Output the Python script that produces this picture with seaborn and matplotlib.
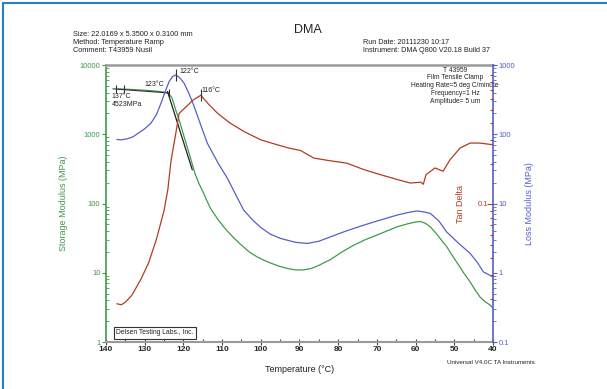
import matplotlib
matplotlib.use("Agg")
import matplotlib.pyplot as plt
import seaborn as sns
import numpy as np
from matplotlib.ticker import FixedLocator, FuncFormatter, NullFormatter, LogLocator, MultipleLocator
from matplotlib.patches import Rectangle

# ---------------- data ----------------
temp_storage = [137, 134, 131, 128, 125.5, 124, 123, 122.5, 122, 121, 120, 119, 118, 117, 116, 115, 114, 113,
                111, 109, 107, 105, 103, 101, 99, 97, 95, 93, 91, 89, 87, 85, 82, 79, 76, 73, 70, 67, 64.8,
                62, 60, 58.8, 57.5, 56.2, 54.5, 53, 52, 50, 48.5, 47.6, 46, 44.5, 43.4, 42, 41, 40]
storage_mod = [4523, 4450, 4350, 4250, 4100, 3950, 3400, 2800, 2250, 1550, 1000, 650, 420, 270, 195, 150, 112, 85,
               58, 42, 32, 25, 20, 17, 15, 13.5, 12.3, 11.5, 11.0, 11.0, 11.5, 12.8, 15.5, 20, 25, 30, 35, 41, 46,
               51, 54, 55, 52, 46, 36, 28, 24, 16, 12, 10, 7.5, 5.5, 4.5, 3.8, 3.5, 3.1]

temp_loss = [137.2, 136, 134.5, 133, 131.5, 130, 128.4, 127, 125.8, 124.8, 123.7, 122.8, 122, 121, 119.8, 118.5,
             117.2, 115.5, 113.8, 111, 108.6, 106.5, 104.4, 102, 100, 97.5, 94.9, 91, 88, 85, 82, 78, 73.4, 69,
             64.8, 62, 59.7, 58, 56.2, 54, 52, 49, 45.9, 44, 42.5, 41, 40]
loss_mod = [84, 83, 86, 92, 105, 120, 144, 190, 280, 400, 574, 680, 717, 660, 544, 380,
            250, 135, 74, 38, 23, 13.5, 8.0, 5.7, 4.5, 3.6, 3.13, 2.75, 2.65, 2.85, 3.3, 4.0, 4.87, 5.8,
            6.8, 7.4, 7.8, 7.6, 7.2, 5.6, 3.9, 2.7, 1.9, 1.4, 1.03, 0.93, 0.87]

temp_tan = [137.2, 136, 135, 133.3, 131, 129, 127, 125, 124, 123.2, 122, 121.1, 119.5, 117.5, 115.5, 113.5,
            111.2, 108, 104.4, 100, 95.8, 93, 89.7, 86.3, 82, 77.8, 73.4, 69.1, 64.8, 61.4, 58.6, 58, 57.3,
            55, 52.9, 51.1, 48.5, 45.9, 43.4, 40]
tan_delta = [0.0185, 0.0182, 0.019, 0.0214, 0.028, 0.037, 0.055, 0.09, 0.13, 0.21, 0.33, 0.47, 0.52, 0.59, 0.64, 0.55,
             0.472, 0.40, 0.346, 0.30, 0.276, 0.262, 0.25, 0.22, 0.21, 0.202, 0.181, 0.166, 0.153, 0.144, 0.146, 0.141,
             0.166, 0.186, 0.176, 0.214, 0.261, 0.284, 0.284, 0.276]

# analysis annotations
onset_line_T = [138.2, 123.8]
onset_line_E = [4523, 3950]
tangent_line_T = [124.1, 117.7]
tangent_line_E = [4140, 306]
onset_marks_T = [137.5, 135.3, 123.8]
onset_marks_E = [4523, 4523, 3950]
loss_peak = (122, 717)
tan_peak = (115.5, 0.644)

x_ticks = [140, 130, 120, 110, 100, 90, 80, 70, 60, 50, 40]
storage_ticks = [1, 10, 100, 1000, 10000]
loss_ticks = [0.1, 1, 10, 100, 1000]
tan_ticks = [0.1]

# ---------------- style ----------------
sns.set_style("white")
plt.rcParams['font.family'] = ['Liberation Sans', 'DejaVu Sans']

green = '#3f9a4c'
blue = '#5560c8'
red = '#b23c22'
spine_gray = '#9a9a9a'

fig = plt.figure(figsize=(6.07, 3.89), dpi=100)
fig.patch.set_facecolor('white')
ax = fig.add_axes([0.1746, 0.1208, 0.6376, 0.7121])
ax2 = ax.twinx()
ax3 = ax.twinx()

sns.lineplot(x=temp_storage, y=storage_mod, ax=ax, color=green, lw=0.9, sort=False, estimator=None)
sns.lineplot(x=temp_loss, y=loss_mod, ax=ax2, color=blue, lw=0.9, sort=False, estimator=None)
sns.lineplot(x=temp_tan, y=tan_delta, ax=ax3, color=red, lw=0.9, sort=False, estimator=None)

# analysis lines
ax.plot(onset_line_T, onset_line_E, color='#333333', lw=0.8)
ax.plot(tangent_line_T, tangent_line_E, color='#222222', lw=0.9)
ax.plot(onset_marks_T, onset_marks_E, ls='none', marker='|', ms=6, mew=0.8, color='#333333')
ax2.plot([loss_peak[0]], [loss_peak[1]], ls='none', marker='|', ms=8, mew=0.8, color='#333333')
ax3.plot([tan_peak[0]], [tan_peak[1]], ls='none', marker='|', ms=8, mew=0.8, color='#333333')

fmt = FuncFormatter(lambda v, p: f'{v:g}')

# storage axis
ax.set_xlim(140, 40)
ax.set_yscale('log')
ax.set_ylim(1, 10000)
ax.yaxis.set_major_locator(FixedLocator(storage_ticks))
ax.yaxis.set_major_formatter(fmt)
ax.yaxis.set_minor_locator(LogLocator(base=10, subs=np.arange(2, 10)))
ax.yaxis.set_minor_formatter(NullFormatter())
ax.tick_params(axis='y', which='major', direction='out', length=3, width=0.8, color=green,
               labelcolor=green, labelsize=5.5, pad=1, left=True)
ax.tick_params(axis='y', which='minor', direction='in', length=2, width=0.6, color=green, left=True)
ax.xaxis.set_major_locator(FixedLocator(x_ticks))
ax.xaxis.set_minor_locator(MultipleLocator(5))
ax.xaxis.set_major_formatter(fmt)
ax.tick_params(axis='x', which='major', direction='inout', length=4, width=0.8, color='#444444',
               labelsize=6, pad=1, bottom=True)
ax.tick_params(axis='x', which='minor', direction='in', length=2.5, width=0.8, color='#444444', bottom=True)
for lab in ax.get_xticklabels():
    lab.set_fontweight('bold')

ax.set_ylabel('Storage Modulus (MPa)', color=green, fontsize=6.5)
ax.yaxis.set_label_coords(-0.098, 0.5)
ax.set_xlabel('Temperature (°C)', fontsize=6.5, color='#222222')
ax.xaxis.set_label_coords(0.5, -0.083)

for s in ['top', 'bottom']:
    ax.spines[s].set_color(spine_gray)
ax.spines['top'].set_linewidth(1.8)
ax.spines['bottom'].set_linewidth(1.5)
ax.spines['left'].set_color(green)
ax.spines['left'].set_linewidth(1.2)
ax.spines['right'].set_visible(False)

# loss axis
ax2.set_yscale('log')
ax2.set_ylim(0.1, 1000)
ax2.yaxis.set_major_locator(FixedLocator(loss_ticks))
ax2.yaxis.set_major_formatter(fmt)
ax2.yaxis.set_minor_locator(LogLocator(base=10, subs=np.arange(2, 10)))
ax2.yaxis.set_minor_formatter(NullFormatter())
ax2.tick_params(axis='y', which='major', direction='out', length=3, width=0.8, color=blue,
                labelcolor=blue, labelsize=5.5, pad=1, right=True)
ax2.tick_params(axis='y', which='minor', direction='out', length=2, width=0.6, color=blue, right=True)
ax2.set_ylabel('Loss Modulus (MPa)', color=blue, fontsize=6.5)
ax2.yaxis.set_label_coords(1.083, 0.5)
for s in ['top', 'bottom', 'left']:
    ax2.spines[s].set_visible(False)
ax2.spines['right'].set_color(blue)
ax2.spines['right'].set_linewidth(1.2)

# tan delta axis
ax3.set_yscale('log')
ax3.set_ylim(0.00966, 1.07)
ax3.yaxis.set_major_locator(FixedLocator(tan_ticks))
ax3.yaxis.set_major_formatter(NullFormatter())
ax3.yaxis.set_minor_locator(LogLocator(base=10, subs=np.arange(2, 10)))
ax3.yaxis.set_minor_formatter(NullFormatter())
ax3.tick_params(axis='y', which='major', direction='in', length=4, width=0.8, color=red, right=True)
ax3.tick_params(axis='y', which='minor', direction='in', length=2, width=0.8, color=red, right=True)
for s in ax3.spines.values():
    s.set_visible(False)
for v in tan_ticks:
    ax3.text(0.988, v, f'{v:g}', transform=ax3.get_yaxis_transform(), ha='right', va='center',
             fontsize=5.5, color=red)
ax3.set_ylabel('')
ax3.text(0.917, 0.5, 'Tan Delta', transform=ax3.transAxes, rotation=90, ha='center', va='center',
         fontsize=6.5, color=red)

# annotations
ax2.text(121.0, 794, '122°C', fontsize=5, ha='left', va='center', color='#222222')
ax3.text(115.2, 0.69, '116°C', fontsize=5, ha='left', va='center', color='#222222')
ax.text(127.6, 5300, '123°C', fontsize=5, ha='center', va='center', color='#222222')
ax.text(138.6, 3900, '137°C\n4523MPa', fontsize=5, ha='left', va='top', color='#222222', linespacing=1.1)

ax.text(0.902, 0.994, 'T 43959\nFilm Tensile Clamp\nHeating Rate=5 deg C/minute\nFrequency=1 Hz\nAmplitude= 5 um',
        transform=ax.transAxes, ha='center', va='top', fontsize=4.8, linespacing=1.15, color='#222222')

ax.text(0.027, 0.033, 'Delsen Testing Labs., Inc.', transform=ax.transAxes, ha='left', va='center',
        fontsize=4.9, color='#222222',
        bbox=dict(boxstyle='square,pad=0.35', fc='white', ec='#333333', lw=0.8))

# header
H = 389.0
fig.text(308 / 607, 1 - 30 / H, 'DMA', ha='center', va='center', fontsize=9, color='#222222')
for i, line in enumerate(['Size: 22.0169 x 5.3500 x 0.3100 mm', 'Method: Temperature Ramp',
                          'Comment: T43959 Nusil']):
    fig.text(73 / 607, 1 - (34 + 8 * i) / H, line, ha='left', va='center', fontsize=5.3, color='#222222')
for i, line in enumerate(['Run Date: 20111230 10:17', 'Instrument: DMA Q800 V20.18 Build 37']):
    fig.text(363 / 607, 1 - (42 + 8 * i) / H, line, ha='left', va='center', fontsize=5.2, color='#222222')
fig.text(491 / 607, 1 - 363 / H, 'Universal V4.0C TA Instruments', ha='center', va='center',
         fontsize=4.5, color='#222222')

# frame
fig.patches.append(Rectangle((3 / 607, -0.05), 1.2, 1.05 - 3 / H, transform=fig.transFigure,
                             fill=False, ec='#2a7fc4', lw=1.5))

fig.savefig('out.png', dpi=100)
